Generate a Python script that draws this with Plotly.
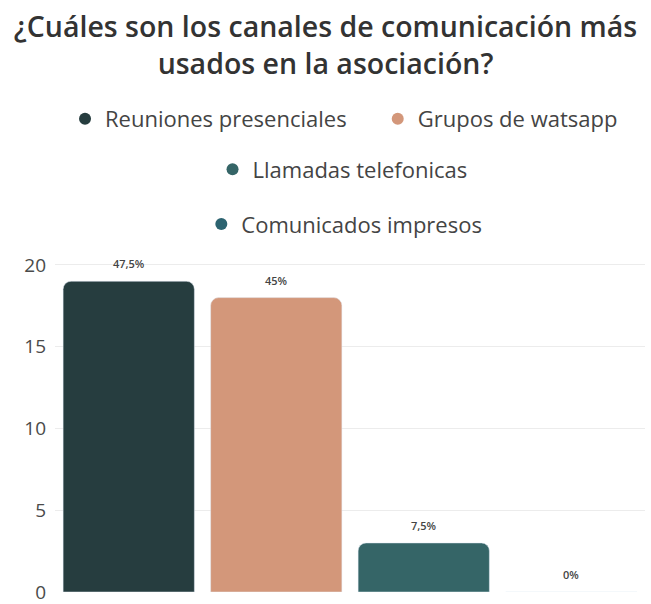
import plotly.graph_objects as go

categories = ["Reuniones presenciales", "Grupos de watsapp", "Llamadas telefonicas", "Comunicados impresos"]
values = [19, 18, 3, 0]
labels = ["47,5%", "45%", "7,5%", "0%"]
colors = ["#263d3f", "#d3977a", "#356567", "#2c6370"]
legend_ids = ["legend", "legend4", "legend2", "legend3"]

fig = go.Figure()
for cat, v, col in zip(categories, values, colors):
    fig.add_trace(go.Bar(
        x=[cat], y=[v],
        marker=dict(color=col, cornerradius=8), width=0.89,
        showlegend=False,
    ))
for cat, v, lab in zip(categories, values, labels):
    fig.add_annotation(x=cat, y=v, text=lab, showarrow=False, yanchor="bottom", yshift=8,
                       font=dict(size=11, color="#444444", family="Open Sans", weight=600))
for cat, col, lg in zip(categories, colors, legend_ids):
    fig.add_trace(go.Scatter(
        x=[None], y=[None], mode="markers", name=cat,
        marker=dict(color=col, size=17, symbol="circle"),
        legend=lg, showlegend=True,
    ))

legend_common = dict(orientation="h", xanchor="left", yanchor="middle",
                     font=dict(size=22, color="#444444", family="Open Sans"),
                     bgcolor="rgba(0,0,0,0)", itemsizing="constant")

fig.update_layout(
    width=651, height=604,
    margin=dict(l=55, r=6, t=260, b=12),
    paper_bgcolor="white", plot_bgcolor="white",
    barmode="overlay",
    title=dict(text="¿Cuáles son los canales de comunicación más<br>usados en la asociación?",
               x=0.5, xanchor="center", y=1 - 37 / 604, yanchor="middle", yref="container",
               font=dict(size=28.5, color="#333333", family="Open Sans", weight=600)),
    legend=dict(x=0.017, y=1.425, **legend_common),
    legend4=dict(x=0.547, y=1.425, **legend_common),
    legend2=dict(x=0.267, y=1.273, **legend_common),
    legend3=dict(x=0.248, y=1.108, **legend_common),
    xaxis=dict(showticklabels=False, showgrid=False, zeroline=False, showline=False),
    yaxis=dict(range=[0, 20.3], tickvals=[0, 5, 10, 15, 20], showgrid=True,
               gridcolor="#ececec", zeroline=False, showline=False, automargin=False,
               tickfont=dict(size=19, color="#4a4a4a", family="Open Sans"),
               ticklabelstandoff=8, ticklabeloverflow="allow"),
)

fig.write_html("out.html")
